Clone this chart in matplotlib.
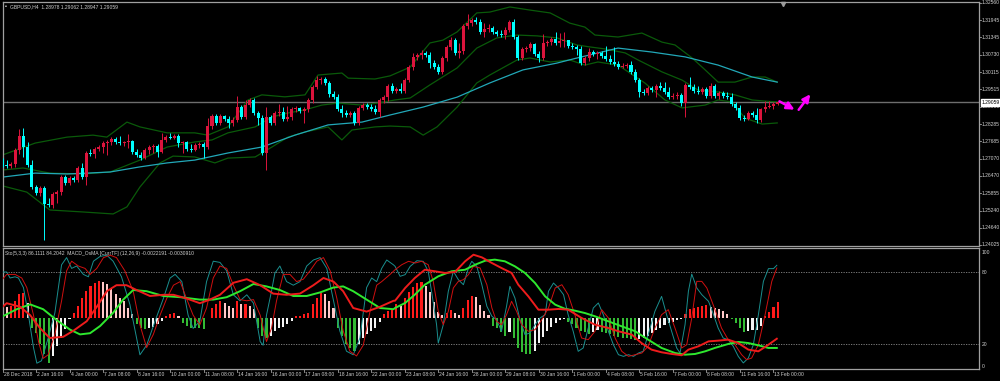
import matplotlib
matplotlib.use('Agg')
import matplotlib.pyplot as plt
import numpy as np

# ---------------- DATA ----------------
symbol_title = "GBPUSD,H4  1.28978 1.29062 1.28947 1.29059"
indicator_title = "Sto(5,3,3) 86.1111 84.2042  MACD_OsMA [CurrTF] (12,26,9) -0.0022191 -0.0030910"

first_open = 1.2699
close = [1.2685,1.2681,1.2688,1.2738,1.2787,1.2748,1.2685,1.2607,1.2586,1.2604,
         1.2547,1.2544,1.2582,1.2589,1.2642,1.2621,1.2639,1.2632,1.2674,1.2642,
         1.2727,1.2724,1.2741,1.2748,1.2762,1.2766,1.2776,1.2766,1.2762,1.2766,
         1.2769,1.2731,1.2720,1.2709,1.2738,1.2748,1.2752,1.2731,1.2773,1.2783,
         1.2780,1.2787,1.2762,1.2766,1.2741,1.2738,1.2755,1.2759,1.2748,1.2822,
         1.2858,1.2833,1.2858,1.2847,1.2833,1.2843,1.2889,1.2854,1.2896,1.2914,
         1.2868,1.2850,1.2727,1.2854,1.2833,1.2868,1.2872,1.2847,1.2854,1.2882,
         1.2886,1.2875,1.2882,1.2914,1.2960,1.2984,1.2988,1.2974,1.2935,1.2924,
         1.2882,1.2868,1.2861,1.2868,1.2833,1.2886,1.2896,1.2889,1.2882,1.2872,
         1.2914,1.2924,1.2963,1.2946,1.2953,1.2946,1.2984,1.3030,1.3066,1.3073,
         1.3080,1.3073,1.3044,1.3030,1.3013,1.3062,1.3101,1.3126,1.3080,1.3087,
         1.3175,1.3186,1.3196,1.3189,1.3154,1.3164,1.3168,1.3154,1.3147,1.3143,
         1.3161,1.3189,1.3136,1.3062,1.3094,1.3097,1.3111,1.3076,1.3062,1.3115,
         1.3119,1.3129,1.3115,1.3122,1.3126,1.3104,1.3101,1.3094,1.3044,1.3062,
         1.3083,1.3076,1.3080,1.3069,1.3059,1.3048,1.3041,1.3030,1.3034,1.3037,
         1.3013,1.2984,1.2942,1.2939,1.2956,1.2949,1.2963,1.2956,1.2942,1.2924,
         1.2928,1.2932,1.2903,1.2967,1.2960,1.2946,1.2942,1.2953,1.2928,1.2963,
         1.2928,1.2939,1.2928,1.2924,1.2900,1.2886,1.2850,1.2847,1.2868,1.2861,
         1.2843,1.2882,1.2889,1.2893,1.2900,1.29059]
high = [1.2709,1.2702,1.2695,1.2745,1.2812,1.2815,1.2766,1.2702,1.2614,1.2611,
        1.2611,1.2568,1.2589,1.2596,1.2649,1.2649,1.2646,1.2646,1.2681,1.2692,
        1.2734,1.2741,1.2748,1.2755,1.2769,1.2773,1.2783,1.2783,1.2787,1.2769,
        1.2794,1.2773,1.2741,1.2731,1.2745,1.2755,1.2759,1.2759,1.2798,1.2790,
        1.2798,1.2794,1.2794,1.2769,1.2769,1.2759,1.2762,1.2766,1.2766,1.2850,
        1.2865,1.2865,1.2865,1.2861,1.2858,1.2854,1.2928,1.2896,1.2914,1.2921,
        1.2921,1.2875,1.2861,1.2889,1.2861,1.2875,1.2900,1.2889,1.2893,1.2889,
        1.2893,1.2889,1.2889,1.2921,1.2967,1.2999,1.2995,1.2995,1.2981,1.2946,
        1.2935,1.2896,1.2879,1.2875,1.2875,1.2893,1.2903,1.2903,1.2900,1.2896,
        1.2921,1.2932,1.2970,1.2974,1.2960,1.2974,1.2991,1.3037,1.3080,1.3080,
        1.3090,1.3087,1.3083,1.3055,1.3041,1.3069,1.3108,1.3136,1.3133,1.3115,
        1.3182,1.3217,1.3203,1.3207,1.3200,1.3186,1.3182,1.3175,1.3161,1.3161,
        1.3171,1.3196,1.3200,1.3143,1.3101,1.3104,1.3119,1.3115,1.3087,1.3147,
        1.3126,1.3136,1.3154,1.3150,1.3154,1.3126,1.3115,1.3108,1.3104,1.3069,
        1.3097,1.3090,1.3087,1.3087,1.3104,1.3073,1.3101,1.3052,1.3044,1.3044,
        1.3052,1.3023,1.2991,1.2953,1.2963,1.2963,1.2970,1.2977,1.2977,1.2960,
        1.2939,1.2942,1.2939,1.2974,1.2995,1.2970,1.2963,1.2960,1.2960,1.2974,
        1.2970,1.2946,1.2946,1.2942,1.2939,1.2907,1.2896,1.2861,1.2875,1.2875,
        1.2886,1.2886,1.2910,1.2910,1.2907,1.29062]
low = [1.2678,1.2674,1.2674,1.2678,1.2724,1.2713,1.2678,1.2600,1.2579,1.2575,
       1.2420,1.2536,1.2533,1.2551,1.2579,1.2614,1.2614,1.2625,1.2625,1.2635,
       1.2614,1.2716,1.2709,1.2734,1.2727,1.2720,1.2755,1.2759,1.2755,1.2752,
       1.2745,1.2724,1.2713,1.2702,1.2706,1.2724,1.2727,1.2713,1.2727,1.2766,
       1.2776,1.2776,1.2748,1.2727,1.2734,1.2731,1.2734,1.2745,1.2709,1.2741,
       1.2812,1.2826,1.2826,1.2840,1.2815,1.2822,1.2836,1.2847,1.2847,1.2889,
       1.2861,1.2826,1.2720,1.2667,1.2826,1.2826,1.2858,1.2840,1.2840,1.2843,
       1.2872,1.2868,1.2833,1.2872,1.2903,1.2953,1.2970,1.2967,1.2924,1.2917,
       1.2875,1.2854,1.2854,1.2854,1.2826,1.2826,1.2879,1.2882,1.2875,1.2865,
       1.2854,1.2903,1.2910,1.2939,1.2939,1.2939,1.2939,1.2977,1.3020,1.3055,
       1.3059,1.3066,1.3027,1.3023,1.3006,1.3006,1.3052,1.3090,1.3073,1.3062,
       1.3076,1.3164,1.3175,1.3182,1.3147,1.3136,1.3154,1.3147,1.3140,1.3136,
       1.3129,1.3154,1.3129,1.3055,1.3055,1.3083,1.3087,1.3069,1.3048,1.3055,
       1.3104,1.3108,1.3108,1.3101,1.3101,1.3097,1.3094,1.3073,1.3037,1.3037,
       1.3052,1.3069,1.3059,1.3062,1.3052,1.3041,1.3034,1.3023,1.3027,1.3027,
       1.3006,1.2977,1.2924,1.2932,1.2932,1.2942,1.2924,1.2949,1.2935,1.2917,
       1.2917,1.2917,1.2893,1.2854,1.2953,1.2939,1.2935,1.2935,1.2921,1.2921,
       1.2921,1.2917,1.2921,1.2917,1.2893,1.2879,1.2843,1.2840,1.2843,1.2854,
       1.2833,1.2836,1.2872,1.2886,1.2882,1.28947]

date_labels = ["28 Dec 2018","2 Jan 16:00","4 Jan 00:00","7 Jan 08:00","8 Jan 16:00",
               "10 Jan 00:00","11 Jan 08:00","14 Jan 16:00","16 Jan 00:00","17 Jan 08:00",
               "18 Jan 16:00","22 Jan 00:00","23 Jan 08:00","24 Jan 16:00","28 Jan 00:00",
               "29 Jan 08:00","30 Jan 16:00","1 Feb 00:00","4 Feb 08:00","5 Feb 16:00",
               "7 Feb 00:00","8 Feb 08:00","11 Feb 16:00","13 Feb 00:00"]
price_ticks = [1.32560,1.31945,1.31345,1.30730,1.30115,1.29515,1.28900,1.28285,
               1.27685,1.27070,1.26470,1.25855,1.25240,1.24640,1.24025]
last_price = 1.29059

# Bollinger bands (20,2) and slow MA, vertices
bbu_bars = [0,7.8,15.4,21.6,24.9,29.7,32.8,39.3,45.9,49.0,53.8,58.6,61.9,67.4,72.2,75.3,81.0,
            82.5,88.9,92.5,97.3,102.0,105.1,108.5,113.2,116.3,121.1,125.9,130.7,135.4,139.0,
            141.4,146.9,152.6,157.4,160.5,164.6,167.7,170.8,174.8,178.9,182.0,184.9]
bb_upper = [1.2720,1.2762,1.2783,1.2790,1.2783,1.2836,1.2819,1.2798,1.2798,1.2790,1.2819,
            1.2914,1.2932,1.2925,1.2932,1.3002,1.3009,1.2991,1.2988,1.2999,1.3030,1.3115,
            1.3125,1.3154,1.3221,1.3224,1.3242,1.3231,1.3221,1.3185,1.3171,1.3143,1.3136,
            1.3150,1.3118,1.3108,1.3062,1.3020,1.2977,1.2977,1.2995,1.2995,1.2977]
bbm_bars = [0,4.9,11.3,19.2,25.7,32.8,39.3,45.9,50.0,53.8,60.3,64.3,68.1,72.2,76.2,80.1,85.8,
            89.6,93.7,97.3,102.0,108.5,113.2,118.0,122.8,127.6,132.3,137.1,140.2,143.8,148.6,
            151.7,157.4,162.2,166.0,170.8,174.8,178.9,182.0,184.9]
bb_mid = [1.2667,1.2674,1.2656,1.2653,1.2660,1.2702,1.2748,1.2766,1.2773,1.2798,1.2819,
          1.2854,1.2868,1.2879,1.2896,1.2903,1.2896,1.2903,1.2914,1.2921,1.2967,1.3027,
          1.3097,1.3133,1.3143,1.3140,1.3133,1.3108,1.3101,1.3094,1.3080,1.3055,1.3013,
          1.2984,1.2949,1.2942,1.2932,1.2914,1.2910,1.2907]
bbl_bars = [0,5.8,11.3,19.2,23.3,26.4,29.7,32.8,37.6,40.7,45.9,50.7,53.8,60.3,64.3,68.1,72.2,
            77.7,81.0,83.4,88.9,92.5,97.3,100.4,103.7,108.5,113.2,116.3,122.8,125.9,130.7,
            135.4,139.0,142.1,146.9,153.3,158.1,162.2,167.7,170.8,174.1,177.2,181.3,184.9]
bb_lower = [1.2611,1.2589,1.2526,1.2519,1.2515,1.2512,1.2537,1.2607,1.2692,1.2716,1.2713,
            1.2692,1.2709,1.2713,1.2748,1.2783,1.2801,1.2819,1.2773,1.2808,1.2819,1.2822,
            1.2819,1.2790,1.2819,1.2889,1.2974,1.3002,1.3055,1.3062,1.3048,1.3055,1.3037,
            1.3048,1.3037,1.2974,1.2914,1.2886,1.2896,1.2914,1.2907,1.2850,1.2829,1.2833]
ma_bars = [0,7.8,15.4,20.2,25.7,32.8,39.3,45.9,53.8,61.9,69.8,77.7,85.8,92.5,100.4,108.5,
           116.3,124.2,132.3,137.1,140.2,146.9,155.0,162.9,170.8,178.9,184.9]
ma_slow = [1.2642,1.2656,1.2653,1.2656,1.2660,1.2678,1.2692,1.2702,1.2727,1.2748,1.2790,
           1.2826,1.2836,1.2861,1.2889,1.2924,1.2974,1.3020,1.3044,1.3062,1.3073,1.3097,
           1.3083,1.3066,1.3037,1.2995,1.2977]

# Stochastic (5,3,3) main line vertices (two read-off halves)
sto_main_bars_a = [0,1.0,1.8,3.0,3.8,5.0,6.2,7.4,8.2,9.3,10.9,12.5,14.1,15.3,16.5,17.7,19.3,
                   20.5,21.7,23.3,24.9,26.4,28.4,30.4,32.0,32.8,34.4,36.4,38.4,40.0,41.2,42.8,
                   44.3,45.5,47.1,48.7,50.3,51.9,53.5,55.1,56.7,58.3,59.9,61.5,62.2,63.0,64.2,
                   65.0,66.2,67.8,69.4,71.0,72.6,74.2,75.8,77.4,78.9,80.5,82.1,83.7,85.3,86.9,
                   88.1,89.3,90.5,91.7,93.3]
sto_main_a = [80,80,75,76,75,67,44,17,4,6,25,46,86,92,83,85,78,76,89,93,94,89,76,53,25,11,
              19,39,58,75,78,72,44,33,39,72,89,88,81,61,56,61,54,22,19,44,64,79,85,72,69,72,
              85,90,92,83,58,31,14,11,25,67,75,72,83,90,86]
sto_main_bars_b = [93.7,94.9,96.1,97.3,98.9,100.4,101.6,102.4,103.6,104.0,105.2,106.4,107.6,
                   108.8,110.0,111.2,112.0,113.2,114.4,115.6,116.8,117.9,119.1,120.3,121.1,
                   122.3,123.5,124.7,125.9,127.1,128.3,129.5,130.3,131.5,132.7,133.9,135.0,
                   136.2,137.4,138.6,139.8,141.0,142.2,143.4,144.6,145.8,147.0,148.2,149.4,
                   150.6,151.8,152.9,154.1,155.7,157.3,158.5,159.7,160.9,161.7,162.9,163.7,
                   164.5,165.7,166.9,168.5,169.7,170.8,172.0,173.2,174.4,175.6,176.8,178.0,
                   179.2,180.4,181.6,182.8,184.0,184.8]
sto_main_b = [84.7,76.4,77.8,84.7,89.4,88.9,80.6,63.9,36.1,20.8,36.1,63.9,80.6,73.6,69.4,
              83.3,88.9,84.7,69.4,51.4,43.1,40.3,30.6,51.4,68.1,58.3,40.3,27.8,29.2,36.1,
              41.7,44.4,63.9,70.8,66.7,61.1,44.4,30.6,13.9,16.7,33.3,50.0,54.2,44.4,30.6,
              19.4,11.1,9.7,11.1,9.7,12.5,13.9,27.8,47.2,59.7,44.4,30.6,16.7,12.5,36.1,
              63.9,78.3,66.7,61.1,55.6,44.4,33.3,25.0,23.6,18.1,9.7,4.2,8.3,19.4,44.4,72.2,
              82.8,82.8,85.6]
# Stochastic signal line vertices
sto_sig_bars_a = [0,1.0,3.0,4.6,5.8,7.4,8.6,9.7,10.9,12.5,14.1,15.3,16.5,18.1,19.7,20.9,22.5,
                  24.1,25.7,27.2,29.2,31.2,32.8,34.4,36.0,37.6,39.2,40.8,42.4,43.9,45.5,47.1,
                  48.7,50.3,51.9,53.5,55.1,56.7,58.3,59.9,61.5,63.0,64.2,65.4,67.0,68.6,70.2,
                  71.8,73.4,75.0,76.6,78.2,79.8,81.3,82.9,84.5,86.1,87.7,89.3,90.5,92.5]
sto_signal_a = [74,78,78,75,67,44,22,8,11,28,56,81,89,85,83,78,83,92,94,92,81,64,36,17,28,
                44,58,69,72,58,44,36,50,75,85,83,69,57,56,57,44,22,33,56,78,78,72,74,81,89,
                92,81,58,31,14,10,19,47,69,72,78]
sto_sig_bars_b = [93.7,95.3,96.9,98.5,100.0,101.6,102.8,104.0,105.2,106.4,107.6,108.8,110.0,
                  111.2,112.4,114.0,115.6,116.8,117.9,119.1,120.3,121.5,122.7,123.9,125.5,
                  127.1,128.7,130.3,131.9,133.5,135.0,136.6,138.2,139.8,141.4,143.0,144.6,
                  146.2,147.8,149.4,151.0,152.6,154.1,155.7,157.3,158.9,160.5,162.1,163.3,
                  164.5,165.7,166.9,168.1,169.3,170.5,171.6,173.2,174.8,176.4,177.6,178.8,
                  180.4,182.0,183.6,184.8]
sto_signal_b = [81.9,86.1,88.9,87.5,88.9,86.1,72.2,47.2,36.1,47.2,66.7,72.2,73.6,77.8,84.7,
                83.3,69.4,50.0,38.9,36.1,44.4,55.6,47.2,36.1,30.6,31.9,40.3,50.0,66.7,69.4,
                61.1,44.4,25.0,23.6,30.6,48.6,41.7,25.0,13.9,9.7,11.1,12.5,18.1,33.3,44.4,
                48.6,33.3,16.7,19.4,41.7,72.2,72.2,66.7,55.6,44.4,33.3,23.6,19.4,11.1,6.9,
                8.3,19.4,44.4,72.2,83.3]

# Thick MACD (green) / signal (red) lines of MACD_OsMA, panel units
macd_bars_a = [0,3.4,6.6,9.7,12.9,16.1,18.5,20.9,23.3,26.4,28.8,31.2,34.4,38.4,42.4,47.1,
               50.3,53.5,56.7,59.9,63.0,66.2,69.4,72.6,75.8,78.9,81.3,83.7,86.9,90.1,93.3]
macd_line_a = [43,49,53,49,40,32,28,29,35,46,57,65,64,60,59,57,57,59,64,70,68,65,60,60,63,
               67,68,64,57,50,49]
macd_bars_b = [93.7,96.1,98.4,100.8,104.0,107.2,110.4,112.8,115.2,117.5,119.9,122.3,124.7,
               127.1,129.5,131.9,134.2,136.6,139.0,141.4,144.6,147.8,151.0,154.1,157.3,160.5,
               162.9,165.3,167.7,170.0,173.2,175.6,178.0,180.4,182.8,184.8]
macd_line_b = [50.0,54.2,61.1,69.4,76.4,80.6,81.9,86.1,89.4,90.3,88.9,84.7,79.2,70.8,59.7,
               52.8,49.4,47.8,45.8,43.1,38.9,34.7,30.6,23.6,16.7,12.5,11.1,11.7,13.9,16.7,
               20.0,21.7,20.8,18.9,16.7,16.7]
sig_bars_a = [0,1.0,4.2,6.6,9.0,11.3,14.5,16.9,20.1,22.5,24.9,27.2,29.6,32.0,35.2,38.4,40.8,
              43.9,47.1,49.5,51.9,55.1,58.3,61.5,64.6,67.8,71.0,74.2,76.6,79.0,81.3,83.7,86.9,
              90.1,93.3]
sig_line_a = [51,54,51,44,33,25,26,31,39,51,64,69,69,65,60,61,61,58,54,57,61,71,74,69,62,
              61,62,69,75,72,64,50,47,51,56]
sig_bars_b = [93.7,96.1,98.4,100.8,103.2,105.6,108.0,110.4,112.4,114.4,116.8,119.1,121.5,
              123.1,125.5,127.9,130.3,132.7,135.0,138.2,141.4,144.6,147.0,150.2,152.5,154.9,
              157.3,159.7,162.1,163.7,166.1,168.5,170.8,173.2,175.6,178.0,180.4,182.8,184.8]
sig_line_b = [56.1,66.7,75.0,81.9,80.6,79.2,80.0,88.9,94.4,92.2,87.5,83.3,79.2,69.4,59.7,
              48.6,48.6,49.2,48.6,41.7,36.1,33.3,30.6,27.8,20.8,15.3,13.1,11.7,10.6,15.3,
              18.1,22.2,22.8,23.6,20.8,15.3,13.9,19.4,24.4]

# OsMA histogram (panel units relative to its zero line), bars 0-93 and 94-185
osma_a = [9.7,8.9,9.4,13.9,19.4,20.8,12.5,-8.3,-12.5,-22.2,-30.6,-37.5,-31.9,-23.6,-16.7,
          -9.7,-1.4,4.2,9.7,16.7,22.2,26.4,29.2,30.6,30.0,27.8,25.0,19.4,16.7,13.9,8.3,2.8,
          -5.6,-8.3,-9.7,-8.3,-8.0,-5.6,-2.8,1.4,2.8,4.2,1.4,-4.2,-6.9,-8.3,-8.6,-8.9,-9.2,
          -0.6,8.3,11.1,13.9,12.5,9.7,8.3,13.9,11.1,11.7,9.7,6.9,-8.3,-15.3,-16.7,-15.3,
          -11.1,-8.3,-8.0,-5.6,-2.8,1.4,1.7,2.8,4.2,11.1,16.7,20.8,19.4,13.9,8.3,-8.3,-15.3,
          -22.2,-25.0,-27.8,-22.2,-16.7,-13.9,-11.1,-8.3,-3.3,2.8,5.6,6.9]
osma_b = [11.0,10.0,16.1,21.7,25.8,28.6,30.0,26.7,21.7,13.3,4.4,2.2,3.6,6.4,3.6,2.2,8.3,
          14.7,18.1,17.5,10.6,5.6,2.2,-6.7,-8.9,-12.2,-15.0,-11.7,-16.7,-25.6,-28.9,-30.0,
          -30.6,-28.0,-21.4,-15.8,-11.1,-7.5,-4.7,-1.9,-1.1,-3.3,-5.6,-8.3,-11.1,-12.2,-13.3,
          -11.7,-10.3,-11.7,-13.1,-13.9,-15.0,-15.8,-16.7,-17.2,-17.8,-18.6,-17.8,-16.7,
          -15.0,-13.1,-10.3,-8.3,-6.1,-4.7,-3.3,-1.9,-1.1,2.8,7.2,8.3,9.2,9.7,10.6,9.2,8.3,
          7.2,5.6,2.8,-1.1,-4.7,-8.9,-11.7,-11.1,-10.6,-10.0,-6.7,1.0,5.0,9.2,13.3]
OSMA_ZERO = 42.0

# ---------------- STYLE / LAYOUT ----------------
W, H = 1000, 381
BG = 'black'
FG = '#cfcfcf'
BULL = '#dc143c'
BEAR = '#00ffff'
BAND = '#0a5a0a'
MA_COL = '#22a8b8'
FONT = 'Liberation Sans'
FS = 3.6

X0, DX = 2.5, 4.19
def px2bar(px):
    return (px - X0) / DX

PY0, PSCALE = 3.0, 0.00035269
def py2price(py):
    return 1.32560 - (py - PY0) * PSCALE

def iv(py):
    return (368 - py) / 1.2

def rect(x0, y0, x1, y1):
    return [x0 / W, 1 - y1 / H, (x1 - x0) / W, (y1 - y0) / H]

fig = plt.figure(figsize=(W / 100, H / 100), dpi=100, facecolor=BG)

AX_L, AX_R = 3, 979
ax = fig.add_axes(rect(AX_L, 2, AX_R, 246), facecolor=BG)
axi = fig.add_axes(rect(AX_L, 248, AX_R, 369), facecolor=BG)

for a in (ax, axi):
    a.set_xlim(px2bar(AX_L), px2bar(AX_R))
    a.set_xticks([]); a.set_yticks([])
    for s in a.spines.values():
        s.set_color('#a0a0a0'); s.set_linewidth(0.9)

ax.set_ylim(py2price(246), py2price(2))
axi.set_ylim(iv(369), iv(248))

n = len(close)
idx = np.arange(n)
opens = np.array([first_open] + close[:-1])
closes = np.array(close)
highs = np.array(high)
lows = np.array(low)
up = closes >= opens

ax.plot(bbu_bars, bb_upper, color=BAND, lw=0.9, zorder=2)
ax.plot(bbm_bars, bb_mid, color=BAND, lw=0.9, zorder=2)
ax.plot(bbl_bars, bb_lower, color=BAND, lw=0.9, zorder=2)
ax.plot(ma_bars, ma_slow, color=MA_COL, lw=0.9, zorder=2)

ax.axhline(last_price, color='#6e6e6e', lw=1.0, zorder=1)

cols = np.where(up, BULL, BEAR)
ax.vlines(idx, lows, highs, colors=cols, lw=0.7, zorder=3)
body_lo = np.minimum(opens, closes)
body_h = np.maximum(np.abs(closes - opens), 0.00008)
ax.bar(idx, body_h, bottom=body_lo, width=0.72, color=cols, edgecolor=cols, lw=0, zorder=4)

MAG = '#ff00ff'
ax.annotate('', xy=(px2bar(797), py2price(111)), xytext=(px2bar(777), py2price(100)),
            arrowprops=dict(arrowstyle='-|>,head_length=0.45,head_width=0.22', color=MAG, lw=1.8))
ax.annotate('', xy=(px2bar(812), py2price(92)), xytext=(px2bar(797), py2price(112)),
            arrowprops=dict(arrowstyle='-|>,head_length=0.45,head_width=0.22', color=MAG, lw=1.8))

ax.plot([px2bar(783)], [py2price(3.5)], marker='v', color='#9a9a9a', ms=3, clip_on=False)

fig.text(5 / W, 1 - 6.5 / H, u'\u25aa', color=FG, fontsize=4, va='center', ha='left', family=FONT)
fig.text(10 / W, 1 - 6.5 / H, symbol_title, color=FG, fontsize=FS, va='center', ha='left', family=FONT)
fig.text(5 / W, 1 - 253.5 / H, indicator_title, color=FG, fontsize=FS, va='center', ha='left', family=FONT)

for p in price_ticks:
    py = PY0 + (1.32560 - p) / PSCALE
    fig.text(982 / W, 1 - py / H, f"{p:.5f}", color=FG, fontsize=FS, va='center', ha='left', family=FONT)
    fig.add_artist(plt.Line2D([979 / W, 981 / W], [1 - py / H] * 2, color='#a0a0a0', lw=0.6))
py = PY0 + (1.32560 - last_price) / PSCALE
fig.text(982 / W, 1 - py / H, f"{last_price:.5f}", color='black', fontsize=FS, va='center', ha='left',
         family=FONT, bbox=dict(boxstyle='square,pad=0.15', fc='white', ec='white'))

for lv in (80, 20):
    axi.axhline(lv, color='#8a8a8a', lw=0.6, ls=(0, (1.5, 1.5)))
for lv, py in ((100, 252), (80, 272), (20, 344), (0, 366)):
    fig.text(982 / W, 1 - py / H, str(lv), color=FG, fontsize=FS, va='center', ha='left', family=FONT)

osma_all = np.array(osma_a + osma_b, dtype=float)
hist_cols = []
for i, v in enumerate(osma_all):
    prev = osma_all[i - 1] if i > 0 else v
    if v >= 0:
        hist_cols.append('#ff1a1a' if v >= prev else '#ffc8c8')
    else:
        hist_cols.append('#33bb33' if v <= prev else '#f4f4f4')
axi.bar(np.arange(len(osma_all)), osma_all, bottom=OSMA_ZERO, width=0.5, color=hist_cols,
        lw=0, zorder=2)

axi.plot(macd_bars_a + macd_bars_b, macd_line_a + macd_line_b, color='#2ee82e', lw=1.4, zorder=4)
axi.plot(sig_bars_a + sig_bars_b, sig_line_a + sig_line_b, color='#ee1c1c', lw=1.4, zorder=4)
axi.plot(sto_main_bars_a + sto_main_bars_b, sto_main_a + sto_main_b, color='#1a8f8f', lw=0.7, zorder=3)
axi.plot(sto_sig_bars_a + sto_sig_bars_b, sto_signal_a + sto_signal_b, color='#d01010', lw=0.7, zorder=3)

for k, lab in enumerate(date_labels):
    bx = X0 + DX * 8 * k
    fig.add_artist(plt.Line2D([bx / W] * 2, [1 - 369 / H, 1 - 372 / H], color='#a0a0a0', lw=0.6))
    fig.text((bx + 1) / W, 1 - 374.5 / H, lab, color=FG, fontsize=FS, va='center', ha='left', family=FONT)

fig.savefig('out.png', dpi=100, facecolor=BG)
